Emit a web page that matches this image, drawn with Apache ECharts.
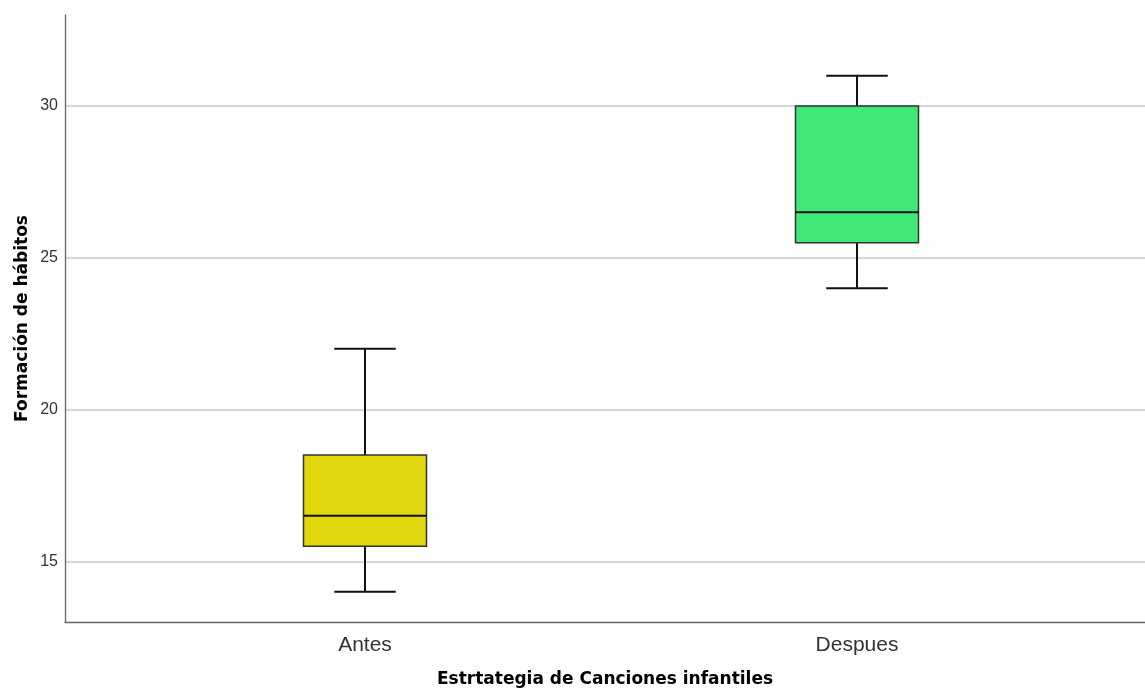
<!DOCTYPE html>
<html>
<head>
<meta charset="utf-8">
<script src="https://cdn.jsdelivr.net/npm/echarts@6/dist/echarts.min.js"></script>
<style>html,body{margin:0;padding:0;background:#fff;}#c{width:1145px;height:689px;}</style>
</head>
<body>
<div id="c"></div>
<script>
const categories = ['Antes', 'Despues'];
const minVals = [14, 24];
const q1Vals = [15.5, 25.5];
const medianVals = [16.5, 26.5];
const q3Vals = [18.5, 30];
const maxVals = [22, 31];
const boxColors = ['#e2d70f', '#40e87a'];

const data = categories.map((c, i) => [i, minVals[i], q1Vals[i], medianVals[i], q3Vals[i], maxVals[i]]);

const chart = echarts.init(document.getElementById('c'), null, {renderer: 'canvas'});
const font = 'Arial, "Liberation Sans", sans-serif';
const titleFont = '"DejaVu Sans", Arial, sans-serif';
chart.setOption({
  animation: false,
  grid: [
    {left: 65, right: 0, top: 15, bottom: 67, containLabel: false, outerBoundsMode: 'none'},
    {left: 119, right: 42, top: 15, bottom: 67, containLabel: false, outerBoundsMode: 'none'}
  ],
  xAxis: [
    {
      gridIndex: 0, type: 'value', min: 0, max: 1,
      axisLine: {show: true, lineStyle: {color: '#666', width: 1.3}},
      axisTick: {show: false}, axisLabel: {show: false}, splitLine: {show: false},
      name: 'Estrtategia de Canciones infantiles', nameLocation: 'middle', nameGap: 49,
      nameTextStyle: {fontFamily: titleFont, fontSize: 17, fontWeight: 'bold', color: '#000'}
    },
    {
      gridIndex: 1, type: 'category', data: categories,
      axisLine: {show: false}, axisTick: {show: false},
      axisLabel: {fontFamily: font, fontSize: 21, color: '#333', margin: 13}
    }
  ],
  yAxis: [
    {
      gridIndex: 0, type: 'value', min: 13, max: 33, splitNumber: 4,
      axisLine: {show: true, lineStyle: {color: '#666', width: 1.3}},
      axisTick: {show: false},
      axisLabel: {fontFamily: font, fontSize: 16, color: '#333', margin: 7, showMinLabel: false, showMaxLabel: false},
      splitLine: {show: true, showMinLine: false, showMaxLine: false, lineStyle: {color: '#c8c8c8', width: 1.5}},
      name: 'Formación de hábitos', nameLocation: 'middle', nameGap: 34, nameMoveOverlap: false,
      nameTextStyle: {fontFamily: titleFont, fontSize: 17, fontWeight: 'bold', color: '#000'}
    },
    {
      gridIndex: 1, type: 'value', min: 13, max: 33, show: false
    }
  ],
  series: [{
    type: 'custom',
    xAxisIndex: 1, yAxisIndex: 1,
    data: data,
    encode: {x: 0, y: [1, 2, 3, 4, 5]},
    renderItem: function (params, api) {
      const idx = api.value(0);
      const band = api.size([1, 0])[0];
      const hw = band * 0.25 / 2;
      const cw = hw / 2;
      const pMin = api.coord([idx, api.value(1)]);
      const pQ1 = api.coord([idx, api.value(2)]);
      const pMed = api.coord([idx, api.value(3)]);
      const pQ3 = api.coord([idx, api.value(4)]);
      const pMax = api.coord([idx, api.value(5)]);
      const x = pMed[0];
      const ls = {stroke: '#111', lineWidth: 2};
      return {
        type: 'group',
        children: [
          {type: 'line', shape: {x1: x, y1: pMax[1], x2: x, y2: pQ3[1]}, style: ls},
          {type: 'line', shape: {x1: x, y1: pQ1[1], x2: x, y2: pMin[1]}, style: ls},
          {type: 'line', shape: {x1: x - cw, y1: pMax[1], x2: x + cw, y2: pMax[1]}, style: ls},
          {type: 'line', shape: {x1: x - cw, y1: pMin[1], x2: x + cw, y2: pMin[1]}, style: ls},
          {type: 'rect', shape: {x: x - hw, y: pQ3[1], width: hw * 2, height: pQ1[1] - pQ3[1]},
            style: {fill: boxColors[idx], stroke: '#333', lineWidth: 1.5}},
          {type: 'line', shape: {x1: x - hw, y1: pMed[1], x2: x + hw, y2: pMed[1]}, style: ls}
        ]
      };
    }
  }]
});
</script>
</body>
</html>
